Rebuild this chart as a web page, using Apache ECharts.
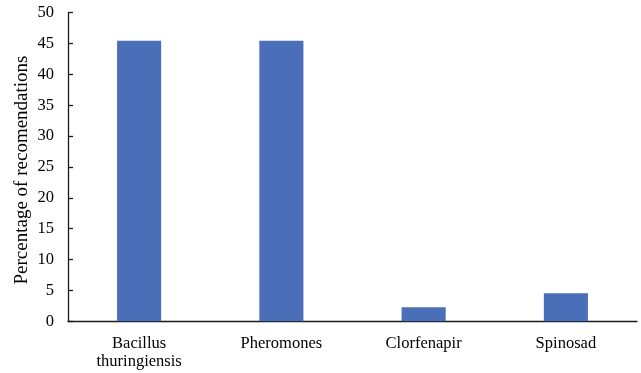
<!DOCTYPE html>
<html>
<head>
<meta charset="utf-8">
<script src="https://cdn.jsdelivr.net/npm/echarts@6/dist/echarts.min.js"></script>
<style>html,body{margin:0;padding:0;background:#fff}#c{width:641px;height:373px}</style>
</head>
<body>
<div id="c"></div>
<script>
var categories = ['Bacillus\nthuringiensis', 'Pheromones', 'Clorfenapir', 'Spinosad'];
var values = [45.45, 45.45, 2.27, 4.55];
var yTicks = [0, 5, 10, 15, 20, 25, 30, 35, 40, 45, 50];

var font = 'Liberation Serif';
var chart = echarts.init(document.getElementById('c'), null, {renderer: 'canvas'});
chart.setOption({
  animation: false,
  grid: {left: 68, right: 4, top: 12.7, bottom: 51.7, containLabel: false},
  xAxis: {
    type: 'category',
    data: categories,
    axisLine: {show: true, lineStyle: {color: '#1a1a1a', width: 1.3}},
    axisTick: {show: false},
    axisLabel: {color: '#000', fontFamily: font, fontSize: 16.5, margin: 13, lineHeight: 18, interval: 0}
  },
  yAxis: {
    type: 'value',
    min: yTicks[0], max: yTicks[yTicks.length - 1], interval: 5,
    name: 'Percentage of recomendations',
    nameLocation: 'middle', nameGap: 36, nameRotate: 90, nameMoveOverlap: false,
    nameTextStyle: {color: '#000', fontFamily: font, fontSize: 19, padding: [0, 6, 0, 0]},
    axisLine: {show: true, lineStyle: {color: '#1a1a1a', width: 1.3}},
    axisTick: {show: true, inside: true, length: 5, lineStyle: {color: '#1a1a1a', width: 1.3}},
    splitLine: {show: false},
    axisLabel: {color: '#000', fontFamily: font, fontSize: 16.5, margin: 14}
  },
  series: [{
    type: 'bar',
    data: values,
    barWidth: '31%',
    itemStyle: {color: '#4a6fb8'}
  }]
});
</script>
</body>
</html>
